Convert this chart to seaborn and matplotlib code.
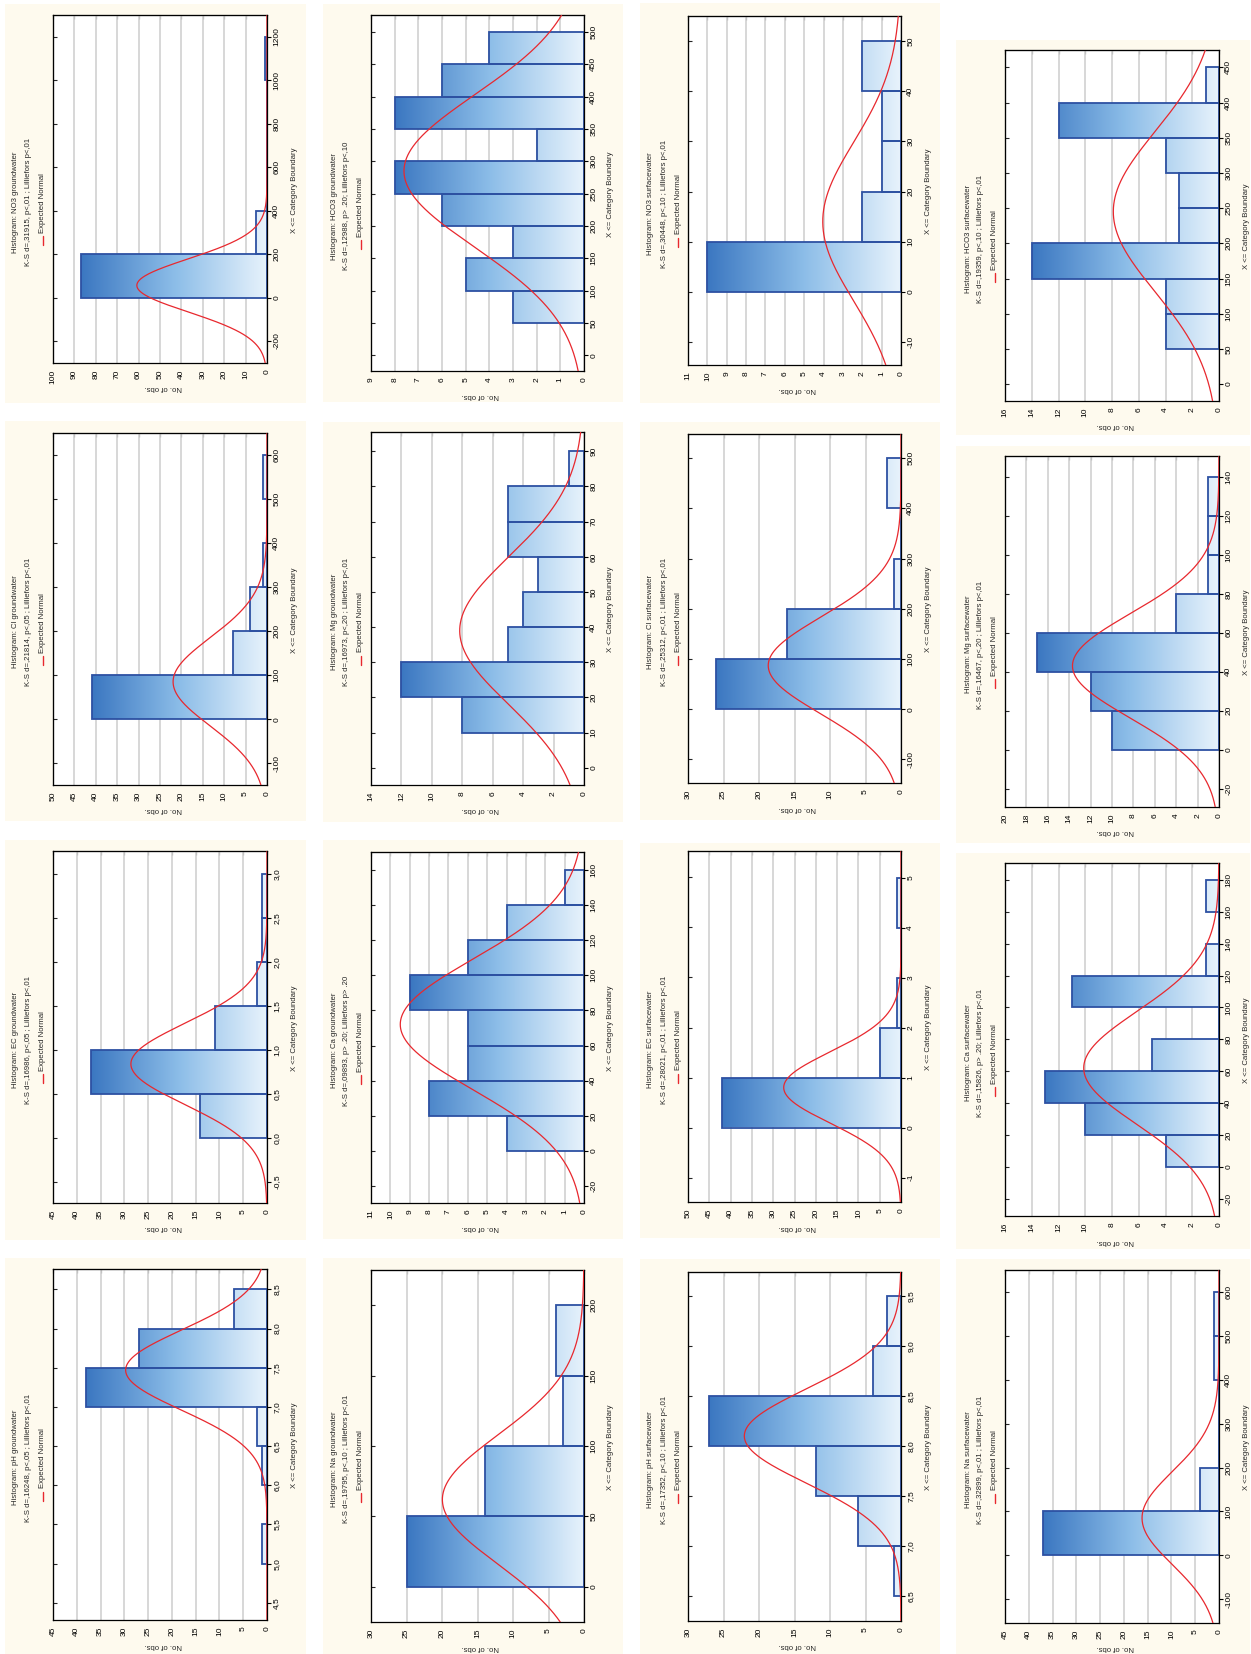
import numpy as np
import pandas as pd
import matplotlib
matplotlib.use("Agg")
import matplotlib.pyplot as plt
import seaborn as sns
from matplotlib.colors import LinearSegmentedColormap
from matplotlib.patches import Rectangle
from matplotlib.lines import Line2D
from matplotlib.ticker import NullFormatter

sns.set_style("white")
plt.rcParams["font.family"] = ["Liberation Sans", "DejaVu Sans"]

# ---------------------------------------------------------------------------
# Histogram counts per parameter (consecutive bins, see bin_start / bin_width)
# ---------------------------------------------------------------------------
no3_gw = [87, 5, 0, 0, 0, 1]
cl_gw = [41, 8, 4, 1, 0, 1]
ec_gw = [14, 37, 11, 2, 1, 1]
ph_gw = [1, 0, 1, 2, 38, 27, 7]
hco3_gw = [3, 5, 3, 6, 8, 2, 8, 6, 4]
mg_gw = [8, 12, 5, 4, 3, 5, 5, 1]
ca_gw = [4, 8, 6, 6, 9, 6, 4, 1]
na_gw = [25, 14, 3, 4]
no3_sw = [10, 2, 1, 1, 2]
cl_sw = [26, 16, 1, 0, 2]
ec_sw = [42, 5, 1, 0, 1]
ph_sw = [1, 6, 12, 27, 4, 2]
hco3_sw = [4, 4, 14, 3, 3, 4, 12, 1]
mg_sw = [10, 12, 17, 4, 1, 1, 1]
ca_sw = [4, 10, 13, 5, 0, 11, 1, 0, 1]
na_sw = [37, 4, 0, 0, 1, 1]

counts = [no3_gw, cl_gw, ec_gw, ph_gw,
          hco3_gw, mg_gw, ca_gw, na_gw,
          no3_sw, cl_sw, ec_sw, ph_sw,
          hco3_sw, mg_sw, ca_sw, na_sw]

bin_start = [0, 0, 0.0, 5.0, 50, 10, 0, 0, 0, 0, 0, 6.5, 50, 0, 0, 0]
bin_width = [200, 100, 0.5, 0.5, 50, 10, 20, 50, 10, 100, 1, 0.5, 50, 20, 20, 100]

# fitted normal (mean, sd) for the expected-normal curve
norm_mean = [56, 85, 0.84, 7.47, 285, 39, 72, 62, 14, 87, 0.8, 8.1, 245, 43, 62, 85]
norm_sd = [122, 100, 0.46, 0.51, 118, 21, 37, 46, 15.8, 96, 0.71, 0.47, 113.6, 26.8, 35.5, 106]

variables = ["NO3 groundwater", "Cl groundwater", "EC groundwater", "pH groundwater",
             "HCO3 groundwater", "Mg groundwater", "Ca groundwater", "Na groundwater",
             "NO3 surfacewater", "Cl surfacewater", "EC surfacewater", "pH surfacewater",
             "HCO3 surfacewater", "Mg surfacewater", "Ca surfacewater", "Na surfacewater"]

ks_text = ["K-S d=,31915, p<,01 ; Lilliefors p<,01",
           "K-S d=,21814, p<,05 ; Lilliefors p<,01",
           "K-S d=,16986, p<,05 ; Lilliefors p<,01",
           "K-S d=,16248, p<,05 ; Lilliefors p<,01",
           "K-S d=,12988, p> .20; Lilliefors p<,10",
           "K-S d=,16973, p<,20 ; Lilliefors p<,01",
           "K-S d=,09893, p> .20; Lilliefors p> .20",
           "K-S d=,19795, p<,10 ; Lilliefors p<,01",
           "K-S d=,30448, p<,10 ; Lilliefors p<,01",
           "K-S d=,25312, p<,01 ; Lilliefors p<,01",
           "K-S d=,28021, p<,01 ; Lilliefors p<,01",
           "K-S d=,17352, p<,10 ; Lilliefors p<,01",
           "K-S d=,19359, p<,10 ; Lilliefors p<,01",
           "K-S d=,16467, p<,20 ; Lilliefors p<,01",
           "K-S d=,15826, p> .20; Lilliefors p<,01",
           "K-S d=,32899, p<,01 ; Lilliefors p<,01"]

# axis scales
count_max = [100, 50, 45, 45, 9, 14, 11, 30, 11, 30, 50, 30, 16, 20, 16, 45]
count_step = [10, 5, 5, 5, 1, 2, 1, 5, 1, 5, 5, 5, 2, 2, 2, 5]
cat_lim = [(-301, 1300), (-149, 649), (-0.74, 3.26), (4.28, 8.76),
           (-24, 526), (-4.9, 95.5), (-29.5, 170), (-24.9, 224.9),
           (-14.6, 55), (-147, 548), (-1.49, 5.53), (6.25, 9.74),
           (-24, 474.7), (-29.5, 150.8), (-30.9, 190.6), (-154, 650)]
cat_ticks = [(-200, 1200, 200), (-100, 600, 100), (-0.5, 3.0, 0.5), (4.5, 8.5, 0.5),
             (0, 500, 50), (0, 90, 10), (-20, 160, 20), (0, 200, 50),
             (-10, 50, 10), (-100, 500, 100), (-1, 5, 1), (6.5, 9.5, 0.5),
             (0, 450, 50), (-20, 140, 20), (-20, 180, 20), (-100, 600, 100)]
comma_decimals = [False, False, True, True, False, False, False, False,
                  False, False, False, True, False, False, False, False]

# ---------------------------------------------------------------------------
# page layout in pixels (page is 1251 x 1654, y measured from the top)
# ---------------------------------------------------------------------------
W, H = 1251, 1654
plot_x = [(53, 267), (371, 584), (688, 901), (1005, 1219)]
plot_y = [[(15, 363), (433, 785), (851, 1203), (1269, 1620)],
          [(15, 371), (432, 785), (852, 1203), (1270, 1622)],
          [(16, 365), (434, 783), (851, 1202), (1272, 1621)],
          [(50, 401), (456, 807), (863, 1216), (1270, 1623)]]
card_x = [(5, 306), (323, 623), (640, 940), (956, 1250)]
card_y = [[(4, 403), (421, 821), (840, 1240), (1258, 1654)],
          [(4, 402), (422, 822), (840, 1239), (1258, 1654)],
          [(3, 403), (422, 820), (843, 1238), (1259, 1654)],
          [(40, 435), (446, 843), (853, 1249), (1259, 1654)]]

CARD = "#fefaee"
EDGE = "#2d51a2"
CURVE = "#e8282e"
GRID = "#d4d4d4"
fade = LinearSegmentedColormap.from_list("bar_fade", ["#e8f3fc", "#8cbde8", "#3b77c1"])
ramp = np.linspace(0, 1, 256).reshape(1, -1)

TXT = 5.6
TICK = 6.0


def fx(px):
    return px / W


def fy(py):
    return 1 - py / H


def fmt_cat(v, comma):
    if comma:
        return f"{v:.1f}".replace(".", ",")
    return f"{int(round(v))}"


fig = plt.figure(figsize=(W / 100, H / 100), dpi=100)
fig.patch.set_facecolor("white")

for i in range(16):
    c, r = divmod(i, 4)
    x0, x1 = plot_x[c]
    y0, y1 = plot_y[c][r]
    bx0, bx1 = card_x[c]
    by0, by1 = card_y[c][r]

    fig.add_artist(Rectangle((fx(bx0), fy(by1)), (bx1 - bx0) / W, (by1 - by0) / H,
                             transform=fig.transFigure, facecolor=CARD,
                             edgecolor="none", zorder=-5))

    ax = fig.add_axes([fx(x0), fy(y1), (x1 - x0) / W, (y1 - y0) / H])
    ax.set_facecolor("white")

    n = counts[i]
    w = bin_width[i]
    lo_edge = bin_start[i]
    hi_edge = bin_start[i] + w * len(n)
    centers = lo_edge + w * (np.arange(len(n)) + 0.5)
    obs = pd.DataFrame({"value": np.repeat(centers, n)})

    sns.histplot(data=obs, y="value", bins=len(n), binrange=(lo_edge, hi_edge),
                 fill=False, color=EDGE, linewidth=1.3, ax=ax, zorder=2)

    # gradient fill inside every bar: light at zero, dark at the tallest bar
    top = max(n)
    for p in list(ax.patches):
        if p.get_width() <= 0:
            continue
        yb = p.get_y()
        im = ax.imshow(ramp, cmap=fade, vmin=0, vmax=1, aspect="auto",
                       extent=(0, top, yb, yb + p.get_height()), origin="lower",
                       interpolation="bilinear", zorder=1)
        im.set_clip_path(p)

    # expected normal curve
    lo, hi = cat_lim[i]
    grid = np.linspace(lo, hi, 500)
    total = sum(n)
    mu, sd = norm_mean[i], norm_sd[i]
    expected = total * w / (sd * np.sqrt(2 * np.pi)) * np.exp(-0.5 * ((grid - mu) / sd) ** 2)
    sns.lineplot(x=expected, y=grid, orient="y", sort=False, estimator=None,
                 color=CURVE, linewidth=0.9, ax=ax, zorder=3)

    # axes: counts run right-to-left along the bottom, categories up the right side
    ax.set_xlim(count_max[i], 0)
    ax.set_ylim(lo, hi)
    cticks = np.arange(0, count_max[i] + count_step[i] / 2, count_step[i])
    ax.set_xticks(cticks, labels=[f"{int(t)}" for t in cticks],
                  rotation=90, ha="center", va="top", fontsize=TICK)
    t0, t1, ts = cat_ticks[i]
    kticks = np.arange(t0, t1 + ts / 2, ts)
    ax.yaxis.tick_right()
    ax.set_yticks(kticks, labels=[fmt_cat(t, comma_decimals[i]) for t in kticks],
                  rotation=90, ha="left", va="center", fontsize=TICK)
    ax.tick_params(axis="both", direction="out", length=3, width=0.8, pad=1.5,
                   colors="black")
    ax.set_xlabel("")
    ax.set_ylabel("")
    ax.grid(axis="x", color=GRID, linewidth=1.3)
    ax.grid(axis="y", visible=False)
    ax.set_axisbelow(True)
    for s in ax.spines.values():
        s.set_visible(True)
        s.set_color("black")
        s.set_linewidth(0.9)

    # mirrored inner ticks on the opposite sides
    sec_x = ax.secondary_xaxis("top")
    sec_x.set_xticks(cticks)
    sec_x.xaxis.set_major_formatter(NullFormatter())
    sec_x.tick_params(direction="in", length=3, width=0.8)
    sec_y = ax.secondary_yaxis("left")
    sec_y.set_yticks(kticks)
    sec_y.yaxis.set_major_formatter(NullFormatter())
    sec_y.tick_params(direction="in", length=3, width=0.8)

    # titles, legend and axis captions
    yc = (y0 + y1) / 2
    xc = (x0 + x1) / 2
    fig.text(fx(x0 - 37), fy(yc + 13), f"Histogram: {variables[i]}", rotation=90,
             ha="center", va="center", fontsize=TXT)
    fig.text(fx(x0 - 24), fy(yc + 13), ks_text[i], rotation=90,
             ha="center", va="center", fontsize=TXT)
    fig.text(fx(x0 - 10), fy(yc + 44), "Expected Normal", rotation=90,
             ha="center", va="bottom", fontsize=TXT)
    fig.add_artist(Line2D([fx(x0 - 10), fx(x0 - 10)], [fy(yc + 47), fy(yc + 56)],
                          transform=fig.transFigure, color=CURVE, linewidth=1.0))
    fig.text(fx(x1 + 27), fy(yc + 1), "X <= Category Boundary", rotation=90,
             ha="center", va="center", fontsize=TXT)
    fig.text(fx(xc + 3), fy(y1 + 25), "No. of obs.", rotation=180,
             ha="center", va="center", fontsize=TXT)

fig.savefig("out.png", dpi=100, facecolor="white")
